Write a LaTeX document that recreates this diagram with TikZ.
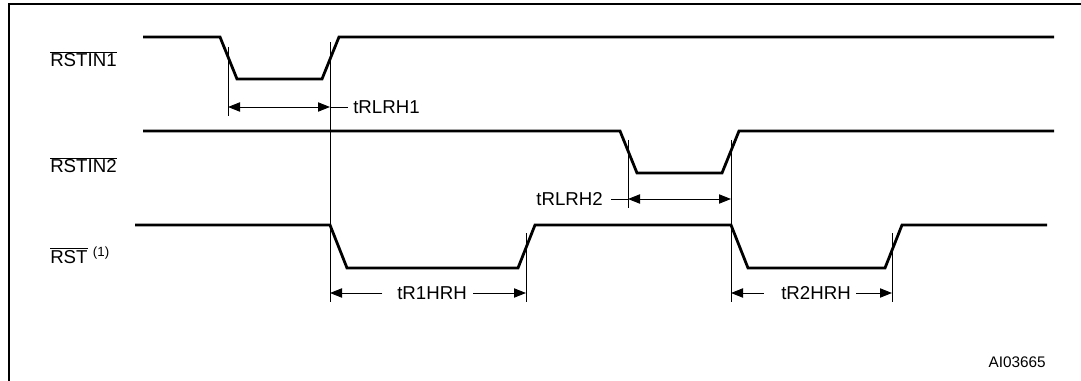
\documentclass[tikz,border=0pt]{standalone}
\usepackage{fontspec}
\setmainfont{Liberation Sans}
\usetikzlibrary{arrows.meta}

\begin{document}
\begin{tikzpicture}[x=0.75pt,y=-0.75pt,
    sig/.style={line width=2.1pt,line join=miter},
    tick/.style={line width=0.7pt},
    head/.style={-{Triangle[length=9pt,width=7pt]}},
    dim/.style={line width=0.7pt,{Triangle[length=9pt,width=7pt]}-{Triangle[length=9pt,width=7pt]}},
    lbl/.style={font=\fontsize{14}{16}\selectfont,inner sep=0pt}]
  \useasboundingbox (0,0) rectangle (1081,381);
  % frame
  \draw[line width=1.5pt] (8.5,381) -- (8.5,4.5) -- (1081,4.5);
  % signal names
  \node[lbl,anchor=west] (n1) at (50,59)  {$\overline{\mbox{RSTIN1}}$};
  \node[lbl,anchor=west] (n2) at (50,165) {$\overline{\mbox{RSTIN2}}$};
  \node[lbl,anchor=west] (n3) at (50,255) {$\overline{\mbox{RST}}$\kern4pt\raisebox{0.75ex}{\fontsize{10}{11}\selectfont(1)}};
  % waveforms
  \draw[sig] (143,37) -- (220,37) -- (237,79) -- (322,79) -- (339,37) -- (1054,37);
  \draw[sig] (143,131) -- (620,131) -- (637,173) -- (722,173) -- (739,131) -- (1054,131);
  \draw[sig] (135,225) -- (330,225) -- (347,268) -- (518,268) -- (535,225) -- (731,225)
    -- (748,268) -- (885,268) -- (902,225) -- (1047,225);
  % edge markers
  \coordinate (a1) at (228,107); \coordinate (a2) at (330,107);
  \coordinate (b1) at (628,199); \coordinate (b2) at (731,199);
  \coordinate (c1) at (330,293); \coordinate (c2) at (526,293);
  \coordinate (d1) at (731,293); \coordinate (d2) at (892,293);
  \draw[tick] (228,47) -- (228,116);
  \draw[tick] (330,42) -- (330,302);
  \draw[tick] (628,140) -- (628,208);
  \draw[tick] (731,140) -- (731,302);
  \draw[tick] (526,233) -- (526,302);
  \draw[tick] (892,233) -- (892,302);
  % timings
  \draw[dim] (a1) -- (a2);
  \node[lbl,anchor=west] (t1) at (353,107) {tRLRH1};
  \draw[tick] (a2) -- ([xshift=-4pt]t1.west);
  \draw[dim] (b1) -- (b2);
  \node[lbl,anchor=east] (t2) at (603,199) {tRLRH2};
  \draw[tick] ([xshift=6pt]t2.east) -- (b1);
  \node[lbl] (t3) at (432,293) {tR1HRH};
  \draw[tick,head] ([xshift=-11pt]t3.west) -- (c1);
  \draw[tick,head] ([xshift=4.5pt]t3.east) -- (c2);
  \node[lbl] (t4) at (816,293) {tR2HRH};
  \draw[tick,head] ([xshift=-13pt]t4.west) -- (d1);
  \draw[tick,head] ([xshift=4pt]t4.east) -- (d2);
  % figure code
  \node[lbl,anchor=east,font=\fontsize{11.5}{13}\selectfont] (fig) at (1046,362) {AI03665};
\end{tikzpicture}
\end{document}
